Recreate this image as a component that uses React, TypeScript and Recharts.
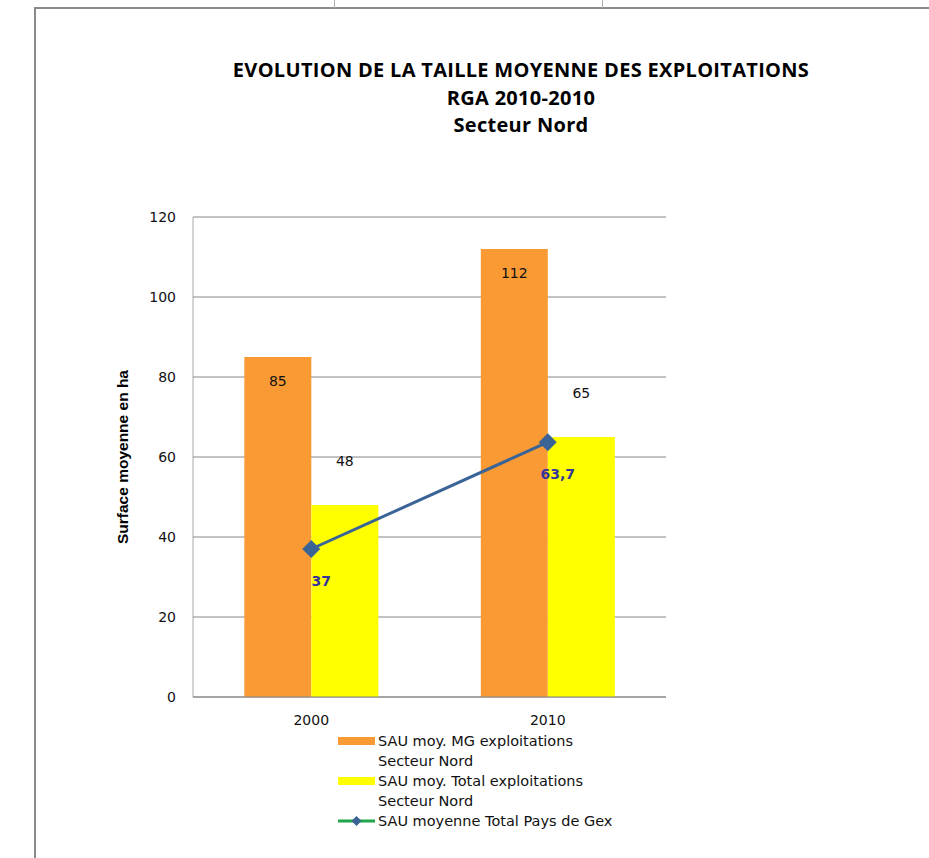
import React from 'react';
import {
  ComposedChart,
  Bar,
  Line,
  XAxis,
  YAxis,
  CartesianGrid,
  Legend,
  LabelList,
} from 'recharts';

const years = ['2000', '2010'];
const mgSecteurNord = [85, 112];
const totalSecteurNord = [48, 65];
const totalPaysDeGex = [37, 63.7];
const yTicks = [0, 20, 40, 60, 80, 100, 120];

const titleLines = [
  'EVOLUTION DE LA TAILLE MOYENNE DES EXPLOITATIONS',
  'RGA 2010-2010',
  'Secteur Nord',
];

const seriesNames = [
  ['SAU moy. MG exploitations', 'Secteur Nord'],
  ['SAU moy. Total exploitations', 'Secteur Nord'],
  ['SAU moyenne Total Pays de Gex'],
];

const data = years.map((year, i) => ({
  year,
  mg: mgSecteurNord[i],
  total: totalSecteurNord[i],
  gex: totalPaysDeGex[i],
}));

const ORANGE = '#F99A35';
const YELLOW = '#FFFF00';
const BLUE = '#3A6496';
const TXT = "'DejaVu Sans', Verdana, sans-serif";

const Diamond = (props: any) => {
  const { cx, cy } = props;
  if (cx == null || cy == null) return null;
  const r = 9;
  return (
    <polygon
      points={`${cx},${cy - r} ${cx + r},${cy} ${cx},${cy + r} ${cx - r},${cy}`}
      fill={BLUE}
    />
  );
};

const GexLabel = (props: any) => {
  const { x, y, value } = props;
  return (
    <text
      x={x + 10}
      y={y + 33}
      textAnchor="middle"
      dominantBaseline="middle"
      fontFamily={TXT}
      fontSize={14}
      fontWeight="bold"
      fill="#35359A"
    >
      {String(value).replace('.', ',')}
    </text>
  );
};

const CustomLegend = () => {
  const rowH = 20;
  return (
    <div style={{ fontFamily: TXT, fontSize: 14.5, color: '#111', lineHeight: `${rowH}px` }}>
      {seriesNames.map((lines, i) => (
        <div key={i} style={{ display: 'flex', alignItems: 'flex-start' }}>
          <svg width={40} height={rowH} style={{ flex: 'none' }}>
            {i === 0 && <rect x={0} y={6} width={37} height={8} fill={ORANGE} />}
            {i === 1 && <rect x={0} y={6} width={37} height={8} fill={YELLOW} />}
            {i === 2 && (
              <>
                <line x1={0} y1={10} x2={37} y2={10} stroke="#1FA64A" strokeWidth={3} />
                <polygon points="18.5,5 23.5,10 18.5,15 13.5,10" fill={BLUE} />
              </>
            )}
          </svg>
          <div style={{ whiteSpace: 'nowrap' }}>
            {lines.map((l, j) => (
              <div key={j}>{l}</div>
            ))}
          </div>
        </div>
      ))}
    </div>
  );
};

export default function App() {
  return (
    <div
      style={{
        position: 'absolute',
        left: 0,
        top: 0,
        width: 929,
        height: 858,
        background: '#fff',
        overflow: 'hidden',
      }}
    >
      {/* page frame */}
      <div style={{ position: 'absolute', left: 34, top: 7, width: 895, height: 2, background: '#8a8a8a' }} />
      <div style={{ position: 'absolute', left: 34, top: 7, width: 2, height: 851, background: '#8a8a8a' }} />
      <div style={{ position: 'absolute', left: 334, top: 0, width: 1, height: 8, background: '#b0b0b0' }} />
      <div style={{ position: 'absolute', left: 602, top: 0, width: 1, height: 8, background: '#b0b0b0' }} />

      {/* title */}
      <div
        style={{
          position: 'absolute',
          left: 171,
          top: 56,
          width: 700,
          textAlign: 'center',
          fontFamily: "'Open Sans', 'Liberation Sans', Arial, sans-serif",
          fontWeight: 'bold',
          fontSize: 20,
          letterSpacing: 0.3,
          lineHeight: '27.5px',
          color: '#000',
        }}
      >
        {titleLines.map((t) => (
          <div key={t}>{t}</div>
        ))}
      </div>

      <div style={{ position: 'absolute', left: 0, top: 0 }}>
        <ComposedChart
          width={929}
          height={858}
          data={data}
          margin={{ top: 217, right: 263, bottom: 131, left: 113 }}
          barCategoryGap="21.7%"
          barGap={0}
        >
          <CartesianGrid vertical={false} stroke="#868686" strokeWidth={1} />
          <XAxis
            dataKey="year"
            height={30}
            axisLine={{ stroke: '#868686' }}
            tickLine={false}
            tickSize={0}
            tickMargin={18}
            tick={{ fontFamily: TXT, fontSize: 14, fill: '#111' }}
          />
          <YAxis
            width={80}
            domain={[0, 120]}
            ticks={yTicks}
            axisLine={{ stroke: '#a8a8a8' }}
            tickLine={false}
            tickSize={0}
            tickMargin={17}
            tick={{ fontFamily: TXT, fontSize: 14, fill: '#111' }}
            label={{
              value: 'Surface moyenne en ha',
              angle: -90,
              position: 'center',
              dx: -31,
              style: {
                fontFamily: "'Liberation Sans Narrow', 'Arial Narrow', sans-serif",
                fontWeight: 'bold',
                fontSize: 15.5,
                fill: '#000',
              },
            }}
          />
          <Bar dataKey="mg" fill={ORANGE} isAnimationActive={false}>
            <LabelList
              dataKey="mg"
              position="insideTop"
              offset={19}
              style={{ fontFamily: TXT, fontSize: 14, fill: '#111' }}
            />
          </Bar>
          <Bar dataKey="total" fill={YELLOW} isAnimationActive={false}>
            <LabelList
              dataKey="total"
              position="top"
              offset={39}
              style={{ fontFamily: TXT, fontSize: 14, fill: '#111' }}
            />
          </Bar>
          <Line
            dataKey="gex"
            stroke={BLUE}
            strokeWidth={3}
            dot={<Diamond />}
            activeDot={false}
            isAnimationActive={false}
          >
            <LabelList dataKey="gex" content={<GexLabel />} />
          </Line>
          <Legend
            layout="vertical"
            align="center"
            verticalAlign="middle"
            content={<CustomLegend />}
            wrapperStyle={{ left: 338, top: 731, width: 320, height: 110 }}
          />
        </ComposedChart>
      </div>
    </div>
  );
}
